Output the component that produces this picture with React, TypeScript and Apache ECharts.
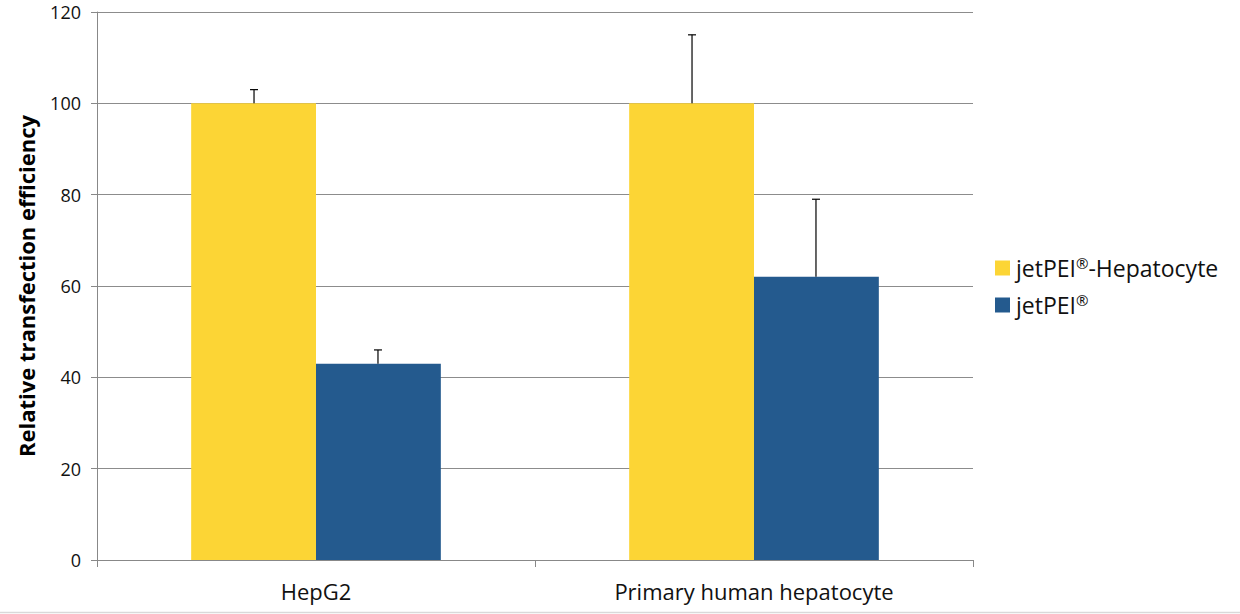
import React, { useEffect, useRef } from "react";
import * as echarts from "echarts";

const categories = ["HepG2", "Primary human hepatocyte"];
const seriesNames = ["jetPEI®-Hepatocyte", "jetPEI®"];
const hepatocyteValues = [100, 100];
const hepatocyteErrors = [3, 15];
const jetpeiValues = [43, 62];
const jetpeiErrors = [3, 17];
const yTicks = { min: 0, max: 120, interval: 20 };
const colors = ["#FCD535", "#245A8E"];

const FONT = "'Open Sans', 'Noto Sans', sans-serif";

export default function App() {
  const ref = useRef<HTMLDivElement>(null);
  useEffect(() => {
    document.body.style.margin = "0";
    const chart = echarts.init(ref.current!, null, { renderer: "svg" });
    const barFrac = 0.283;
    const makeErr = (vals: number[], errs: number[], dir: number) => ({
      type: "custom",
      silent: true,
      z: 10,
      data: vals.map((v, i) => [i, v, v + errs[i]]),
      encode: { x: 0, y: [1, 2] },
      renderItem: (params: any, api: any) => {
        const band = api.size([1, 0])[0];
        const off = (dir * band * barFrac) / 2;
        const base = api.coord([api.value(0), api.value(1)]);
        const top = api.coord([api.value(0), api.value(2)]);
        const x = base[0] + off;
        const style = { stroke: "#000", lineWidth: 1.2 };
        return {
          type: "group",
          children: [
            { type: "line", shape: { x1: x, y1: base[1], x2: x, y2: top[1] }, style },
            { type: "line", shape: { x1: x - 4, y1: top[1], x2: x + 4, y2: top[1] }, style },
          ],
        };
      },
    });
    chart.setOption({
      animation: false,
      backgroundColor: "#fff",
      color: colors,
      textStyle: { fontFamily: FONT },
      grid: { left: 97, right: 267, top: 12, bottom: 54 },
      legend: {
        orient: "vertical",
        left: 990,
        top: 250,
        itemWidth: 15,
        itemHeight: 15,
        itemGap: 11,
        icon: "rect",
        data: seriesNames,
        formatter: (n: string) => n.replace("®", "{sup|®}"),
        textStyle: {
          fontFamily: FONT,
          fontSize: 23,
          lineHeight: 26,
          color: "#111",
          padding: [0, 0, 0, 1],
          rich: {
            sup: { fontSize: 15, lineHeight: 26, verticalAlign: "top", padding: [0, 0, 9, 0], color: "#111", fontFamily: FONT },
          },
        },
      },
      xAxis: {
        type: "category",
        data: categories,
        axisLine: { lineStyle: { color: "#888", width: 1 } },
        axisTick: { show: true, alignWithLabel: false, length: 7, lineStyle: { color: "#888" } },
        axisLabel: { fontSize: 22, color: "#111", margin: 20, fontFamily: FONT },
      },
      yAxis: {
        type: "value",
        min: yTicks.min,
        max: yTicks.max,
        interval: yTicks.interval,
        name: "Relative transfection efficiency",
        nameLocation: "middle",
        nameGap: 60,
        nameTextStyle: { fontSize: 22, fontWeight: "bold", color: "#000", fontFamily: FONT },
        axisLine: { show: true, lineStyle: { color: "#888", width: 1 } },
        axisTick: { show: true, length: 6, lineStyle: { color: "#888" } },
        axisLabel: { fontSize: 18, color: "#111", margin: 16, fontFamily: FONT },
        splitLine: { lineStyle: { color: "#8c8c8c", width: 1 } },
      },
      series: [
        {
          name: seriesNames[0],
          type: "bar",
          data: hepatocyteValues,
          barGap: "0%",
          barCategoryGap: "43%",
        },
        {
          name: seriesNames[1],
          type: "bar",
          data: jetpeiValues,
          barGap: "0%",
          barCategoryGap: "43%",
        },
        makeErr(hepatocyteValues, hepatocyteErrors, -1),
        makeErr(jetpeiValues, jetpeiErrors, 1),
      ],
      graphic: [
        {
          type: "line",
          shape: { x1: 0, y1: 612.5, x2: 1240, y2: 612.5 },
          style: { stroke: "#d9d9d9", lineWidth: 1.5 },
        },
      ],
    });
    return () => chart.dispose();
  }, []);
  return <div ref={ref} style={{ width: 1240, height: 614 }} />;
}
